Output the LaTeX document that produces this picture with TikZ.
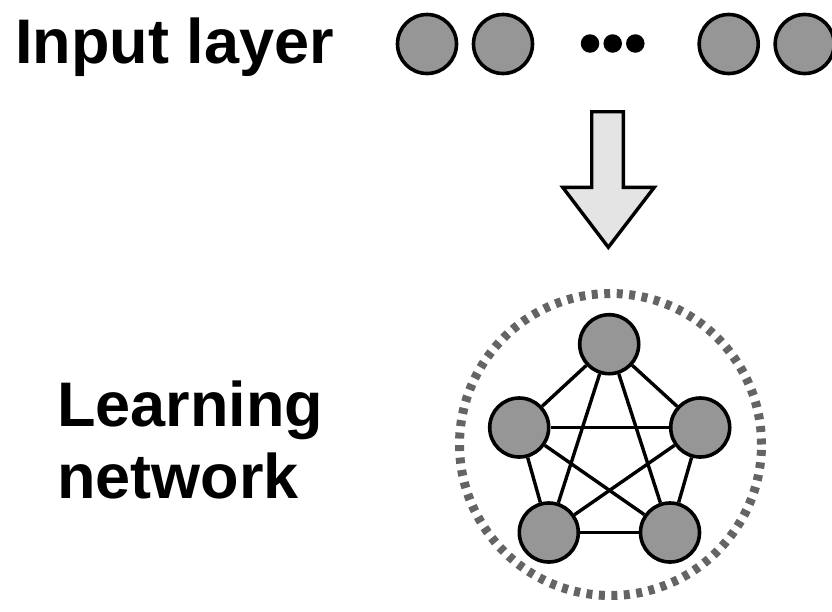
\documentclass[tikz,border=0pt]{standalone}
\usepackage{fontspec}
\setmainfont{Liberation Sans}
\begin{document}
\begin{tikzpicture}[x=1pt,y=-1pt,
  unit/.style={circle,draw=black,line width=3.6pt,fill=unitgray,minimum size=59pt,inner sep=0pt},
  dot/.style={circle,fill=black,minimum size=18.5pt,inner sep=0pt},
  link/.style={line width=3.4pt},
  label/.style={anchor=base west,inner sep=0pt,font=\fontsize{63}{72}\selectfont\bfseries}]
\definecolor{unitgray}{RGB}{150,150,150}
\definecolor{arrowgray}{RGB}{228,228,228}
\definecolor{ringgray}{RGB}{100,100,100}
\useasboundingbox (0,0) rectangle (832,611);

% labels
\node[label] (inlabel) at (15,63.3) {Input layer};
\node[label,align=left] (netlabel) at (57,498.3) {Learning\\[-0.5pt]network};

% input layer units
\node[unit] (i1) at (427,44) {};
\node[unit] (i2) at (503,44) {};
\node[dot] (d1) at (590,43.5) {};
\node[dot] (d2) at (612.7,43.5) {};
\node[dot] (d3) at (635.3,43.5) {};
\node[unit] (i3) at (728.7,44) {};
\node[unit] (i4) at (804.7,44) {};

% block arrow
\draw[line width=3.4pt,line join=miter,fill=arrowgray]
  (591.7,111.7) -- (623.3,111.7) -- (623.3,187.3) -- (654.3,187.3)
  -- (608.3,247.3) -- (562.7,187.3) -- (591.7,187.3) -- cycle;

% dashed boundary of the network
\node[circle,draw=ringgray,line width=9pt,dash pattern=on 6pt off 6.5pt,
      minimum size=302pt,inner sep=0pt] (ring) at (610.5,444.5) {};

% network units
\node[unit] (n1) at (609.2,344.2) {};
\node[unit] (n2) at (519.2,427.5) {};
\node[unit] (n3) at (700.2,427.5) {};
\node[unit] (n4) at (548.8,532.5) {};
\node[unit] (n5) at (670,532.5) {};

% full connectivity
\foreach \a/\b in {n1/n2,n1/n3,n1/n4,n1/n5,n2/n3,n2/n4,n2/n5,n3/n4,n3/n5,n4/n5}
  \draw[link] (\a) -- (\b);
\end{tikzpicture}
\end{document}
